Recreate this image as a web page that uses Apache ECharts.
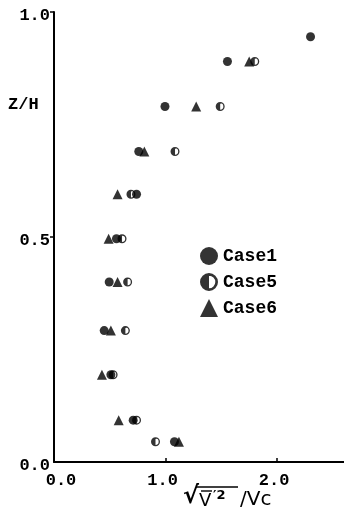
<!DOCTYPE html>
<html><head><meta charset="utf-8">
<script src="https://cdn.jsdelivr.net/npm/echarts@6/dist/echarts.min.js"></script>
<style>html,body{margin:0;padding:0;background:#fff}#c{width:344px;height:515px}</style>
</head><body><div id="c"></div>
<script>
// Z/H levels and velocity fluctuation values
const zCase1 = [0.945, 0.89, 0.79, 0.69, 0.595, 0.496, 0.40, 0.292, 0.194, 0.093, 0.045];
const vCase1 = [2.30, 1.555, 0.995, 0.76, 0.74, 0.56, 0.495, 0.45, 0.51, 0.71, 1.08];
const zCase5 = [0.89, 0.79, 0.69, 0.595, 0.496, 0.40, 0.292, 0.194, 0.093, 0.045];
const vCase5 = [1.80, 1.49, 1.085, 0.69, 0.61, 0.66, 0.64, 0.53, 0.74, 0.91];
const zCase6 = [0.89, 0.79, 0.69, 0.595, 0.496, 0.40, 0.292, 0.194, 0.093, 0.045];
const vCase6 = [1.75, 1.275, 0.81, 0.57, 0.49, 0.57, 0.51, 0.43, 0.58, 1.12];
const seriesNames = ['Case1', 'Case5', 'Case6'];
const xTickLabels = [0, 1, 2];
const yTickLabels = [0, 0.5, 1.0];

const halfCircle = 'path://M10 0A10 10 0 0 0 10 20Z M10 0A10 10 0 0 1 10 20L10 17A7 7 0 0 0 10 3Z';
const FONT = 'Liberation Mono';
const pairs = (xs, ys) => xs.map((v, i) => [v, ys[i]]);
const labelRich = {fontFamily: FONT, fontWeight: 'bold', fontSize: 17, color: '#000'};

const chart = echarts.init(document.getElementById('c'), null, {renderer: 'canvas'});
chart.setOption({
  animation: false,
  backgroundColor: '#fff',
  grid: {left: 54, right: 0, top: 12, bottom: 53, containLabel: false},
  xAxis: {
    type: 'value', min: 0, max: 2.6, interval: 1,
    axisLine: {show: true, lineStyle: {color: '#000', width: 2}},
    axisTick: {show: true, inside: true, length: 4, lineStyle: {color: '#000', width: 1.5}, customValues: [1, 2]},
    axisLabel: {color: '#000', fontFamily: FONT, fontWeight: 'bold', fontSize: 17, margin: 10,
      customValues: xTickLabels,
      formatter: v => v === 0 ? '{z|' + v.toFixed(1) + '}' : '{o|' + v.toFixed(1) + '}',
      rich: {z: Object.assign({padding: [0, 0, 0, 14]}, labelRich), o: Object.assign({padding: [0, 6, 0, 0]}, labelRich)}},
    splitLine: {show: false}
  },
  yAxis: {
    type: 'value', min: 0, max: 1, interval: 0.5,
    axisLine: {show: true, lineStyle: {color: '#000', width: 2}},
    axisTick: {show: true, length: 4, lineStyle: {color: '#000', width: 1.5}, customValues: [0.5, 1.0]},
    axisLabel: {color: '#000', fontFamily: FONT, fontWeight: 'bold', fontSize: 17, margin: 4,
      customValues: yTickLabels,
      formatter: v => '{a|' + v.toFixed(1) + '}',
      rich: {a: Object.assign({padding: [8, 0, 0, 0]}, labelRich)}},
    splitLine: {show: false}
  },
  legend: {
    orient: 'vertical', left: 195, top: 242, itemWidth: 18, itemHeight: 18, itemGap: 8,
    itemStyle: {borderWidth: 0},
    textStyle: {color: '#000', fontFamily: FONT, fontWeight: 'bold', fontSize: 18},
    data: seriesNames
  },
  graphic: [
    {type: 'text', left: 8, top: 96, style: {text: 'Z/H', fill: '#000', font: 'bold 17px "Liberation Mono"'}},
    {type: 'text', left: 183, top: 485, style: {text: '\u221A', fill: '#000', font: 'bold 24px "DejaVu Sans"'}},
    {type: 'line', shape: {x1: 196, y1: 487, x2: 238, y2: 487}, style: {stroke: '#000', lineWidth: 1.6}},
    {type: 'line', shape: {x1: 201, y1: 491, x2: 212, y2: 491}, style: {stroke: '#000', lineWidth: 1.4}},
    {type: 'text', left: 199, top: 492, style: {text: 'V', fill: '#000', font: '18px "DejaVu Sans"'}},
    {type: 'text', left: 213, top: 489, style: {text: '\u20322', fill: '#000', font: 'bold 13px "DejaVu Sans"'}},
    {type: 'text', left: 240, top: 490, style: {text: '/Vc', fill: '#000', font: '20px "DejaVu Sans"'}}
  ],
  series: [
    {name: 'Case1', type: 'scatter', symbol: 'circle', symbolSize: 9, itemStyle: {color: '#000'}, data: pairs(vCase1, zCase1), z: 2},
    {name: 'Case5', type: 'scatter', symbol: halfCircle, symbolSize: 9, itemStyle: {color: '#000'}, data: pairs(vCase5, zCase5), z: 3},
    {name: 'Case6', type: 'scatter', symbol: 'triangle', symbolSize: 10, itemStyle: {color: '#000'}, data: pairs(vCase6, zCase6), z: 2}
  ]
});
</script></body></html>
